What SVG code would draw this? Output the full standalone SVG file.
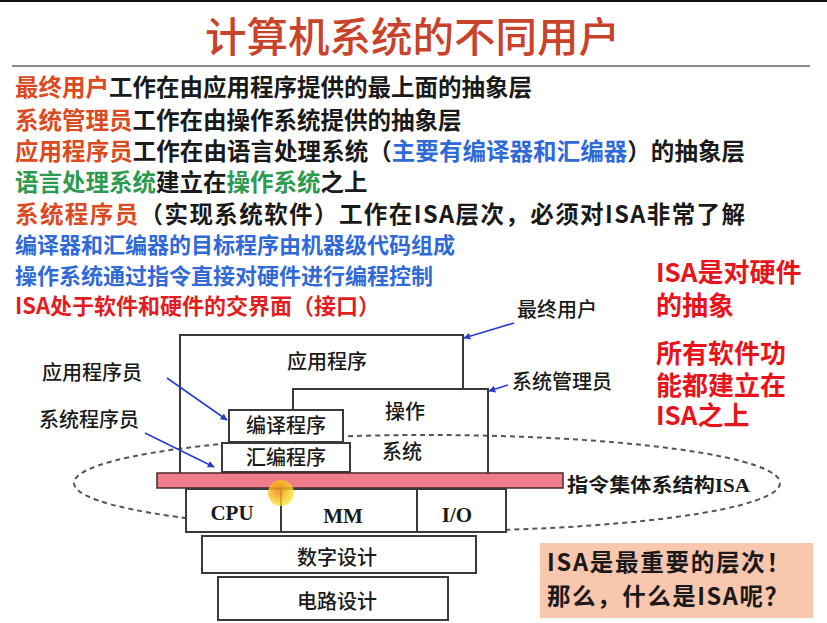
<svg xmlns="http://www.w3.org/2000/svg" width="827" height="623" viewBox="0 0 827 623">
<defs>
<marker id="ah" viewBox="0 0 10 10" refX="9" refY="5" markerWidth="7" markerHeight="7" orient="auto" markerUnits="userSpaceOnUse">
<path d="M0,0 L10,5 L0,10 z" fill="#2a3fd0"/>
</marker>
<radialGradient id="cur" cx="0.4" cy="0.4" r="0.6">
<stop offset="0" stop-color="#f28a1e"/>
<stop offset="0.45" stop-color="#f6b21c"/>
<stop offset="1" stop-color="#f7e62a" stop-opacity="0.85"/>
</radialGradient>
</defs>
<style>
.t{font-family:"Noto Sans CJK SC","Liberation Sans",sans-serif;font-weight:bold;font-size:23.5px;fill:#1a1a1a}
.s{font-size:22px}
.o{fill:#dc4a22}
.b{fill:#2f6ad8}
.g{fill:#2e9a50}
.r{fill:#e31d1f}
.side{font-family:"Noto Sans CJK SC","Liberation Sans",sans-serif;font-weight:bold;font-size:26px;fill:#e8141b}
.box{fill:#fff;stroke:#3a3a3a;stroke-width:2}
.lbl{font-family:"Noto Sans CJK SC","Liberation Sans",sans-serif;font-weight:500;font-size:20px;fill:#1a1a1a;text-anchor:middle}
.hw{font-family:"Liberation Serif",serif;font-weight:bold;font-size:21px;fill:#1a1a1a;text-anchor:middle}
.ann{font-family:"Noto Sans CJK SC","Liberation Sans",sans-serif;font-weight:500;font-size:20px;fill:#1a1a1a}
.arr{stroke:#2a3fd0;stroke-width:1.6;fill:none;marker-end:url(#ah)}
</style>
<rect width="827" height="623" fill="#fff"/>
<rect x="0" y="0" width="827" height="2" fill="#111"/>
<text x="205" y="52" textLength="415" lengthAdjust="spacingAndGlyphs" font-family="Noto Sans CJK SC, Liberation Sans, sans-serif" font-weight="500" font-size="41" fill="#c8432a">计算机系统的不同用户</text>
<rect x="12" y="65" width="798" height="2" fill="#8a8a8a"/>

<g id="statements">
<text class="t" x="15" y="96"><tspan class="o">最终用户</tspan>工作在由应用程序提供的最上面的抽象层</text>
<text class="t" x="15" y="129"><tspan class="o">系统管理员</tspan>工作在由操作系统提供的抽象层</text>
<text class="t" x="15" y="160" textLength="730"><tspan class="o">应用程序员</tspan>工作在由语言处理系统（<tspan class="b">主要有编译器和汇编器</tspan>）的抽象层</text>
<text class="t" x="15" y="191"><tspan class="g">语言处理系统</tspan>建立在<tspan class="g">操作系统</tspan>之上</text>
<text class="t" x="15" y="223" textLength="730"><tspan class="o">系统程序员</tspan>（实现系统软件）工作在ISA层次，必须对ISA非常了解</text>
<text class="t s b" x="15" y="253">编译器和汇编器的目标程序由机器级代码组成</text>
<text class="t s b" x="15" y="284">操作系统通过指令直接对硬件进行编程控制</text>
<text class="t s r" x="15" y="314">ISA处于软件和硬件的交界面（接口）</text>
</g>

<g id="side-notes">
<text class="side" x="656" y="282">ISA是对硬件</text>
<text class="side" x="656" y="315">的抽象</text>
<text class="side" x="656" y="363">所有软件功</text>
<text class="side" x="656" y="395">能都建立在</text>
<text class="side" x="656" y="425">ISA之上</text>
</g>

<g id="isa-ellipse">
<ellipse cx="427" cy="483" rx="353" ry="48" fill="none" stroke="#555" stroke-width="2" stroke-dasharray="5 4"/>
</g>

<g id="app">
<path d="M180,473 V335 H463 V389" fill="none" stroke="#3a3a3a" stroke-width="2"/>
<text class="lbl" x="327" y="369">应用程序</text>
</g>
<g id="os">
<path d="M293,410 V389 H488 V473" fill="none" stroke="#3a3a3a" stroke-width="2"/>
<text class="lbl" x="405" y="419">操作</text>
<text class="lbl" x="402" y="459">系统</text>
</g>
<g id="compiler">
<rect class="box" x="229" y="410" width="114" height="32"/>
<text class="lbl" x="286" y="433">编译程序</text>
</g>
<g id="assembler">
<rect class="box" x="222" y="443" width="128" height="29"/>
<text class="lbl" x="286" y="465">汇编程序</text>
</g>
<g id="isa">
<rect x="157" y="473" width="406" height="15" fill="#ef7b8b" stroke="#4a2a2a" stroke-width="1.5"/>
<text x="567" y="492" textLength="183" lengthAdjust="spacingAndGlyphs" font-family="Liberation Serif, Noto Sans CJK SC, serif" font-weight="bold" font-size="19" fill="#1a1a1a">指令集体系结构ISA</text>
</g>
<g id="hardware">
<rect class="box" x="186" y="489" width="320" height="43"/>
<line x1="281" y1="489" x2="281" y2="532" stroke="#3a3a3a" stroke-width="2"/>
<line x1="417" y1="489" x2="417" y2="532" stroke="#3a3a3a" stroke-width="2"/>
<text class="hw" x="232" y="520">CPU</text>
<text class="hw" x="343" y="523">MM</text>
<text class="hw" x="457" y="522">I/O</text>
</g>
<g id="digital">
<rect class="box" x="202" y="536" width="274" height="37"/>
<text class="lbl" x="337" y="565">数字设计</text>
</g>
<g id="circuit">
<rect class="box" x="218" y="577" width="230" height="43"/>
<text class="lbl" x="337" y="609">电路设计</text>
</g>

<g id="labels">
<text class="ann" x="517" y="317">最终用户</text>
<text class="ann" x="512" y="389">系统管理员</text>
<text class="ann" x="42" y="380">应用程序员</text>
<text class="ann" x="39" y="427">系统程序员</text>
</g>

<g id="connectors">
<line class="arr" x1="514" y1="323" x2="464" y2="338"/>
<line class="arr" x1="508" y1="385" x2="489" y2="391"/>
<line class="arr" x1="167" y1="378" x2="227" y2="420"/>
<line class="arr" x1="145" y1="433" x2="214" y2="467"/>
</g>

<g id="note">
<rect x="540" y="543" width="273" height="75" fill="#f9c6ae"/>
<text class="t" x="547" y="571" font-size="24" textLength="243">ISA是最重要的层次！</text>
<text class="t" x="547" y="605" font-size="24" textLength="241">那么，什么是ISA呢？</text>
</g>

<circle cx="281" cy="493" r="13" fill="url(#cur)" opacity="0.85"/>
</svg>
